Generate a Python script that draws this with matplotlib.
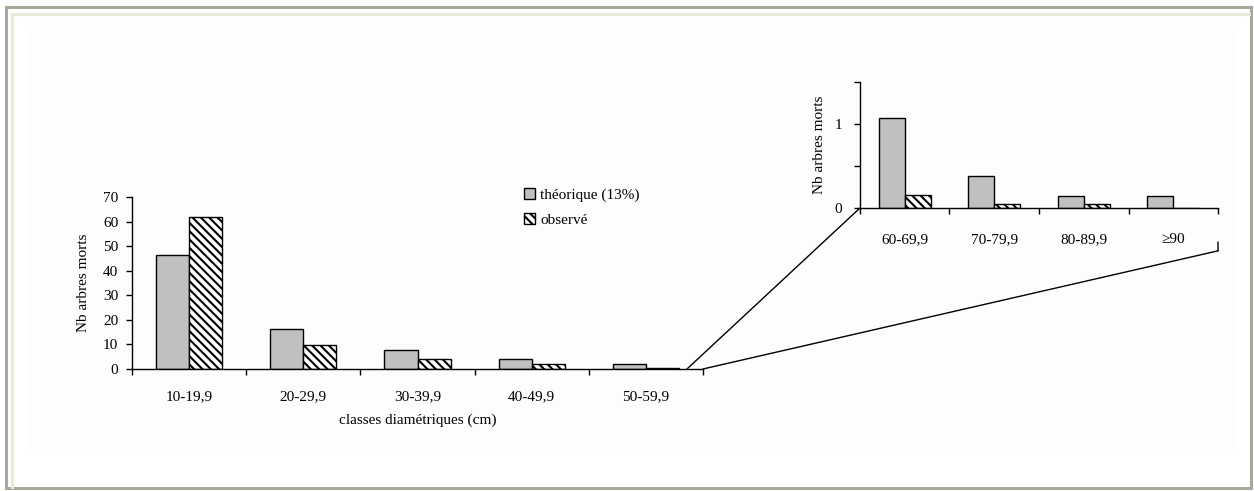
import numpy as np
import matplotlib
matplotlib.use("Agg")
import matplotlib.pyplot as plt
from matplotlib.patches import Rectangle, ConnectionPatch
from matplotlib.lines import Line2D

# data
classes_main = ["10-19,9", "20-29,9", "30-39,9", "40-49,9", "50-59,9"]
theo_main = [46.5, 16.3, 7.6, 4.0, 2.0]
obs_main = [62.0, 9.8, 4.0, 2.0, 0.5]

classes_zoom = ["60-69,9", "70-79,9", "80-89,9", "\u226590"]
theo_zoom = [1.07, 0.38, 0.14, 0.14]
obs_zoom = [0.16, 0.05, 0.05, 0.0]

plt.rcParams["font.family"] = ["Liberation Serif", "DejaVu Serif"]
plt.rcParams["font.size"] = 11
plt.rcParams["hatch.linewidth"] = 1.5

gray = "#c0c0c0"
fs = 11
W, H = 1254, 491

fig = plt.figure(figsize=(12.54, 4.91), dpi=100)

# frame around the picture (pixel positions converted to figure fraction)
def fx(px):
    return px / W

def fy(py):
    return 1 - py / H

fig.add_artist(Rectangle((fx(27), fy(450)), fx(1210), 420 / H,
                         transform=fig.transFigure, facecolor="#fdfdfd",
                         edgecolor="none", zorder=-10))
fig.add_artist(Rectangle((fx(5.5), fy(488)), fx(1245), 481 / H,
                         transform=fig.transFigure, fill=False,
                         edgecolor="#a9a899", lw=2.2, zorder=-5))
fig.add_artist(Line2D([fx(12), fx(12), fx(1249)], [fy(487), fy(13.5), fy(13.5)],
                      transform=fig.transFigure, color="#ebe9d8", lw=2.2,
                      zorder=-5))


def bar_axes(ax, classes, theo, obs, ylim, yticks, yticklabels, xpad, ypad):
    x = np.arange(len(classes))
    w = 0.29
    ax.bar(x - w / 2, theo, w, color=gray, edgecolor="black", lw=1,
           label="théorique (13%)")
    ax.bar(x + w / 2, obs, w, color="white", edgecolor="black", lw=1,
           hatch="\\\\\\\\", label="observé")
    ax.set_xlim(-0.5, len(classes) - 0.5)
    ax.set_ylim(*ylim)
    ax.set_yticks(yticks)
    ax.set_yticklabels(yticklabels, fontsize=fs)
    ax.set_xticks(x)
    ax.set_xticklabels(classes, fontsize=fs)
    ax.set_xticks(np.arange(len(classes) + 1) - 0.5, minor=True)
    ax.tick_params(axis="x", which="major", length=0, pad=xpad)
    ax.tick_params(axis="x", which="minor", length=4, width=1, direction="out")
    ax.tick_params(axis="y", length=4, width=1, direction="out", pad=ypad)
    for s in ["top", "right"]:
        ax.spines[s].set_visible(False)
    for s in ["left", "bottom"]:
        ax.spines[s].set_linewidth(1)
    ax.patch.set_alpha(0)


ax = fig.add_axes([0.1053, 0.2485, 0.4553, 0.3503])
bar_axes(ax, classes_main, theo_main, obs_main, (0, 70),
         np.arange(0, 71, 10), [str(v) for v in range(0, 71, 10)], 15, 6)
ax.set_ylabel("Nb arbres morts", fontsize=fs, labelpad=9)
ax.set_xlabel("classes diamétriques (cm)", fontsize=fs, labelpad=8)

axz = fig.add_axes([0.6858, 0.5764, 0.2855, 0.2566])
bar_axes(axz, classes_zoom, theo_zoom, obs_zoom, (0, 1.5),
         [0, 0.5, 1, 1.5], ["0", "", "1", ""], 18, 9)
axz.set_ylabel("Nb arbres morts", fontsize=fs, labelpad=6)

# zoom lines from the end of the main axis to the inset
for xa, xb, yb in [(0.972, 0.0, 0.0), (1.0, 1.0, -0.34)]:
    con = ConnectionPatch(xyA=(xa, 0), coordsA=ax.transAxes,
                          xyB=(xb, yb), coordsB=axz.transAxes,
                          color="black", lw=1)
    fig.add_artist(con)
fig.add_artist(ConnectionPatch(xyA=(1.0, -0.34), coordsA=axz.transAxes,
                               xyB=(1.0, -0.27), coordsB=axz.transAxes,
                               color="black", lw=1))

handles, labels = ax.get_legend_handles_labels()
fig.legend(handles, labels, loc="upper left",
           bbox_to_anchor=(fx(524), fy(188)),
           frameon=False, handlelength=0.75, handleheight=0.75,
           handletextpad=0.3, labelspacing=0.7, fontsize=fs,
           borderaxespad=0, borderpad=0)

fig.savefig("out.png", dpi=100)
